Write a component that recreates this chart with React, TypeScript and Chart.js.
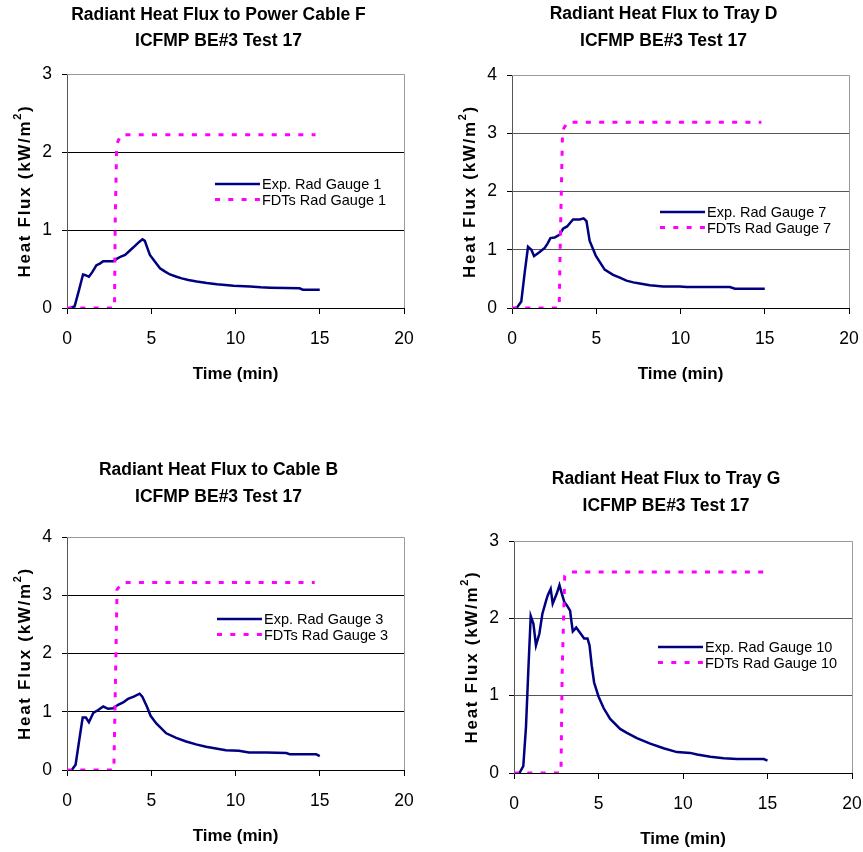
import React, { useEffect, useRef } from "react";
import { Chart, registerables } from "chart.js";

Chart.register(...registerables);

const FONT = "'Liberation Sans', Arial, Helvetica, sans-serif";

// ---------- Data ----------
const xTickValues = [0, 5, 10, 15, 20];

// Panel 1: Power Cable F
const title1 = ["Radiant Heat Flux to Power Cable F", "ICFMP BE#3 Test 17"];
const expLabel1 = "Exp. Rad Gauge 1";
const fdtLabel1 = "FDTs Rad Gauge 1";
const expTime1 = [0.17, 0.45, 0.7, 0.95, 1.1, 1.3, 1.5, 1.75, 1.95, 2.15, 2.4, 2.75, 2.95, 3.2, 3.45, 3.75, 4.05, 4.3, 4.48, 4.62, 4.75, 4.92, 5.2, 5.52, 5.8, 6.11, 6.5, 6.81, 7.2, 7.7, 8.3, 8.89, 9.4, 9.88, 10.87, 11.5, 12.06, 13.0, 13.8, 14.0, 15.0];
const expFlux1 = [0, 0.02, 0.22, 0.43, 0.42, 0.4, 0.46, 0.55, 0.57, 0.6, 0.6, 0.6, 0.63, 0.66, 0.68, 0.74, 0.8, 0.85, 0.88, 0.86, 0.78, 0.68, 0.6, 0.51, 0.47, 0.43, 0.4, 0.38, 0.36, 0.34, 0.32, 0.305, 0.295, 0.285, 0.275, 0.265, 0.26, 0.255, 0.253, 0.235, 0.235];
const fdtTime1 = [0, 2.82, 2.86, 2.95, 3.2, 14.75];
const fdtFlux1 = [0, 0, 1.1, 2.1, 2.22, 2.22];

// Panel 2: Tray D
const title2 = ["Radiant Heat Flux to Tray D", "ICFMP BE#3 Test 17"];
const expLabel2 = "Exp. Rad Gauge 7";
const fdtLabel2 = "FDTs Rad Gauge 7";
const expTime2 = [0.2, 0.3, 0.55, 0.75, 0.95, 1.15, 1.31, 1.64, 1.94, 2.1, 2.28, 2.53, 2.83, 3.03, 3.27, 3.62, 4.02, 4.25, 4.42, 4.61, 4.97, 5.5, 6.0, 6.4, 6.79, 7.2, 7.58, 8.18, 8.97, 9.96, 10.36, 12.93, 13.23, 15.0];
const expFlux2 = [0, 0.01, 0.11, 0.6, 1.05, 1.0, 0.89, 0.96, 1.03, 1.1, 1.2, 1.21, 1.26, 1.36, 1.4, 1.52, 1.52, 1.54, 1.49, 1.15, 0.9, 0.66, 0.57, 0.52, 0.47, 0.44, 0.42, 0.39, 0.37, 0.37, 0.36, 0.36, 0.33, 0.33];
const fdtTime2 = [0, 2.8, 2.87, 3.0, 3.3, 14.8];
const fdtFlux2 = [0, 0, 1.2, 3.05, 3.19, 3.19];

// Panel 3: Cable B
const title3 = ["Radiant Heat Flux to Cable B", "ICFMP BE#3 Test 17"];
const expLabel3 = "Exp. Rad Gauge 3";
const fdtLabel3 = "FDTs Rad Gauge 3";
const expTime3 = [0.28, 0.51, 0.73, 0.93, 1.12, 1.3, 1.56, 1.85, 2.15, 2.44, 2.74, 3.03, 3.33, 3.62, 3.96, 4.31, 4.47, 4.74, 4.96, 5.3, 5.89, 6.48, 7.07, 7.66, 8.25, 8.84, 9.43, 10.2, 10.8, 11.83, 13.02, 13.21, 14.79, 15.0];
const expFlux3 = [0, 0.09, 0.52, 0.9, 0.9, 0.82, 0.98, 1.03, 1.09, 1.05, 1.06, 1.12, 1.16, 1.22, 1.26, 1.31, 1.26, 1.09, 0.93, 0.8, 0.63, 0.55, 0.49, 0.44, 0.4, 0.37, 0.34, 0.33, 0.3, 0.3, 0.29, 0.27, 0.27, 0.24];
const fdtTime3 = [0, 2.78, 2.85, 2.97, 3.3, 14.7];
const fdtFlux3 = [0, 0, 1.1, 3.1, 3.22, 3.22];

// Panel 4: Tray G
const title4 = ["Radiant Heat Flux to Tray G", "ICFMP BE#3 Test 17"];
const expLabel4 = "Exp. Rad Gauge 10";
const fdtLabel4 = "FDTs Rad Gauge 10";
const expTime4 = [0.32, 0.55, 0.71, 0.85, 0.99, 1.15, 1.3, 1.5, 1.68, 1.9, 2.0, 2.17, 2.29, 2.53, 2.69, 2.83, 2.98, 3.12, 3.32, 3.38, 3.48, 3.68, 3.95, 4.15, 4.35, 4.47, 4.6, 4.74, 5.0, 5.3, 5.69, 6.28, 6.68, 7.27, 8.06, 8.85, 9.64, 10.43, 10.83, 11.62, 12.41, 13.2, 14.78, 15.0];
const expFlux4 = [0, 0.09, 0.6, 1.34, 2.03, 1.93, 1.65, 1.8, 2.06, 2.23, 2.3, 2.38, 2.19, 2.32, 2.43, 2.32, 2.21, 2.17, 2.1, 1.99, 1.83, 1.88, 1.8, 1.74, 1.74, 1.65, 1.39, 1.17, 0.99, 0.84, 0.7, 0.57, 0.52, 0.45, 0.38, 0.32, 0.27, 0.26, 0.24, 0.21, 0.19, 0.18, 0.18, 0.16];
const fdtTime4 = [0, 2.78, 2.85, 3.0, 3.35, 14.8];
const fdtFlux4 = [0, 0, 1.3, 2.55, 2.6, 2.6];

const yTitleMain = "Heat Flux (kW/m";
const yTitleSup = "2";
const yTitleEnd = ")";
const xTitle = "Time (min)";

// ---------- Layout / styles ----------
const Y_AXIS_W = 67;
const TOP_PAD = 80;
const X_AXIS_H = 76;
const RIGHT_PAD = 11;

type Panel = {
  title: string[];
  expLabel: string;
  fdtLabel: string;
  expTime: number[];
  expFlux: number[];
  fdtTime: number[];
  fdtFlux: number[];
  yMax: number;
  plot: { l: number; t: number; r: number; b: number };
  titleOff: [number, number];
  legend: { dx: number; dy: number };
  grid: string;
};

const panels: Panel[] = [
  { title: title1, expLabel: expLabel1, fdtLabel: fdtLabel1, expTime: expTime1, expFlux: expFlux1, fdtTime: fdtTime1, fdtFlux: fdtFlux1, yMax: 3, plot: { l: 67, t: 74, r: 404, b: 308 }, titleOff: [-59, -33], legend: { dx: 148, dy: 110 }, grid: "#000000" },
  { title: title2, expLabel: expLabel2, fdtLabel: fdtLabel2, expTime: expTime2, expFlux: expFlux2, fdtTime: fdtTime2, fdtFlux: fdtFlux2, yMax: 4, plot: { l: 512, t: 75, r: 849, b: 308 }, titleOff: [-61, -34], legend: { dx: 148, dy: 137 }, grid: "#555555" },
  { title: title3, expLabel: expLabel3, fdtLabel: fdtLabel3, expTime: expTime3, expFlux: expFlux3, fdtTime: fdtTime3, fdtFlux: fdtFlux3, yMax: 4, plot: { l: 67, t: 537, r: 404, b: 770 }, titleOff: [-67, -40], legend: { dx: 150, dy: 82 }, grid: "#000000" },
  { title: title4, expLabel: expLabel4, fdtLabel: fdtLabel4, expTime: expTime4, expFlux: expFlux4, fdtTime: fdtTime4, fdtFlux: fdtFlux4, yMax: 3, plot: { l: 514, t: 541, r: 852, b: 773 }, titleOff: [-62, -35], legend: { dx: 144, dy: 106 }, grid: "#555555" },
];

const decorPlugin = {
  id: "decor",
  beforeDatasetsDraw(chart: any) {
    const { ctx, chartArea: a } = chart;
    ctx.save();
    ctx.strokeStyle = "#9a9a9a";
    ctx.lineWidth = 1;
    ctx.beginPath();
    ctx.moveTo(a.left, a.top + 0.5);
    ctx.lineTo(a.right + 0.5, a.top + 0.5);
    ctx.lineTo(a.right + 0.5, a.bottom);
    ctx.stroke();
    ctx.restore();
  },
  afterDraw(chart: any) {
    const o = chart.options.plugins.decor;
    const { ctx, chartArea: a } = chart;
    ctx.save();
    ctx.fillStyle = "#000";
    ctx.textBaseline = "middle";
    // titles
    ctx.textAlign = "center";
    ctx.font = `bold 17.5px ${FONT}`;
    const cx = (a.left + a.right) / 2;
    o.title.forEach((line: string, i: number) => {
      ctx.fillText(line, cx - 17, a.top + o.titleOff[i]);
    });
    // x title
    ctx.font = `bold 17px ${FONT}`;
    ctx.fillText(xTitle, cx, a.bottom + 66);
    // y title (rotated, with superscript)
    ctx.save();
    ctx.translate(a.left - 42, (a.top + a.bottom) / 2);
    ctx.rotate(-Math.PI / 2);
    (ctx as any).letterSpacing = "1.7px";
    ctx.textAlign = "left";
    ctx.font = `bold 17px ${FONT}`;
    const w1 = ctx.measureText(yTitleMain).width;
    const w3 = ctx.measureText(yTitleEnd).width;
    ctx.font = `bold 11px ${FONT}`;
    const w2 = ctx.measureText(yTitleSup).width;
    const total = w1 + w2 + w3;
    let x = -total / 2;
    ctx.font = `bold 17px ${FONT}`;
    ctx.fillText(yTitleMain, x, 0);
    x += w1;
    ctx.font = `bold 11px ${FONT}`;
    ctx.fillText(yTitleSup, x, -7);
    x += w2;
    ctx.font = `bold 17px ${FONT}`;
    ctx.fillText(yTitleEnd, x, 0);
    ctx.restore();
    // legend
    ctx.textAlign = "left";
    ctx.font = `14.5px ${FONT}`;
    const lx = a.left + o.legend.dx;
    chart.data.datasets.forEach((ds: any, i: number) => {
      const ly = a.top + o.legend.dy + i * 15.5;
      ctx.save();
      ctx.strokeStyle = ds.borderColor;
      ctx.lineWidth = ds.borderWidth;
      ctx.setLineDash(ds.borderDash || []);
      ctx.beginPath();
      ctx.moveTo(lx, ly);
      ctx.lineTo(lx + 45, ly);
      ctx.stroke();
      ctx.restore();
      ctx.fillStyle = "#000";
      ctx.fillText(ds.label, lx + 47, ly + 1);
    });
    ctx.restore();
  },
};

function PanelChart({ p }: { p: Panel }) {
  const ref = useRef<HTMLCanvasElement | null>(null);
  const width = p.plot.r - p.plot.l + Y_AXIS_W + RIGHT_PAD;
  const height = p.plot.b - p.plot.t + TOP_PAD + X_AXIS_H;
  useEffect(() => {
    if (!ref.current) return;
    const chart = new Chart(ref.current, {
      type: "line",
      data: {
        datasets: [
          {
            label: p.expLabel,
            data: p.expTime.map((t, i) => ({ x: t, y: p.expFlux[i] })),
            borderColor: "#000080",
            borderWidth: 2.5,
            pointRadius: 0,
            tension: 0,
            fill: false,
            order: 1,
          },
          {
            label: p.fdtLabel,
            data: p.fdtTime.map((t, i) => ({ x: t, y: p.fdtFlux[i] })),
            borderColor: "#FF00FF",
            borderWidth: 3,
            borderDash: [5, 8.3],
            pointRadius: 0,
            tension: 0,
            fill: false,
            order: 0,
          },
        ],
      },
      options: {
        animation: false,
        responsive: false,
        events: [],
        layout: { padding: { left: 0, top: TOP_PAD, right: RIGHT_PAD, bottom: 0 } },
        scales: {
          x: {
            type: "linear",
            min: 0,
            max: 20,
            afterBuildTicks: (s: any) => {
              s.ticks = xTickValues.map((v) => ({ value: v }));
            },
            afterFit: (s: any) => {
              s.height = X_AXIS_H;
              s.paddingLeft = 0;
              s.paddingRight = 0;
            },
            ticks: {
              color: "#000",
              font: { family: FONT, size: 17.5 },
              padding: 15,
              maxRotation: 0,
            },
            grid: {
              drawOnChartArea: false,
              drawTicks: true,
              tickLength: 6,
              tickColor: "#000",
            },
            border: { color: "#000", width: 1 },
          },
          y: {
            type: "linear",
            min: 0,
            max: p.yMax,
            ticks: {
              stepSize: 1,
              color: "#000",
              font: { family: FONT, size: 17.5 },
              padding: 10,
            },
            afterFit: (s: any) => {
              s.width = Y_AXIS_W;
              s.paddingTop = 0;
              s.paddingBottom = 0;
            },
            grid: {
              color: (c: any) => (c.tick && c.tick.value === p.yMax ? "rgba(0,0,0,0)" : p.grid),
              lineWidth: 1,
              tickLength: 5,
              tickColor: "#000",
            },
            border: { color: "#555", width: 1 },
          },
        },
        plugins: {
          legend: { display: false },
          tooltip: { enabled: false },
          title: { display: false },
          decor: { title: p.title, titleOff: p.titleOff, legend: p.legend },
        } as any,
      },
      plugins: [decorPlugin],
    });
    return () => chart.destroy();
  }, [p]);
  return (
    <canvas
      ref={ref}
      width={width}
      height={height}
      style={{
        position: "absolute",
        left: p.plot.l - Y_AXIS_W,
        top: p.plot.t - TOP_PAD,
        width,
        height,
      }}
    />
  );
}

export default function App() {
  return (
    <div style={{ position: "absolute", left: 0, top: 0, width: 863, height: 852, background: "#fff" }}>
      {panels.map((p, i) => (
        <PanelChart key={i} p={p} />
      ))}
    </div>
  );
}
